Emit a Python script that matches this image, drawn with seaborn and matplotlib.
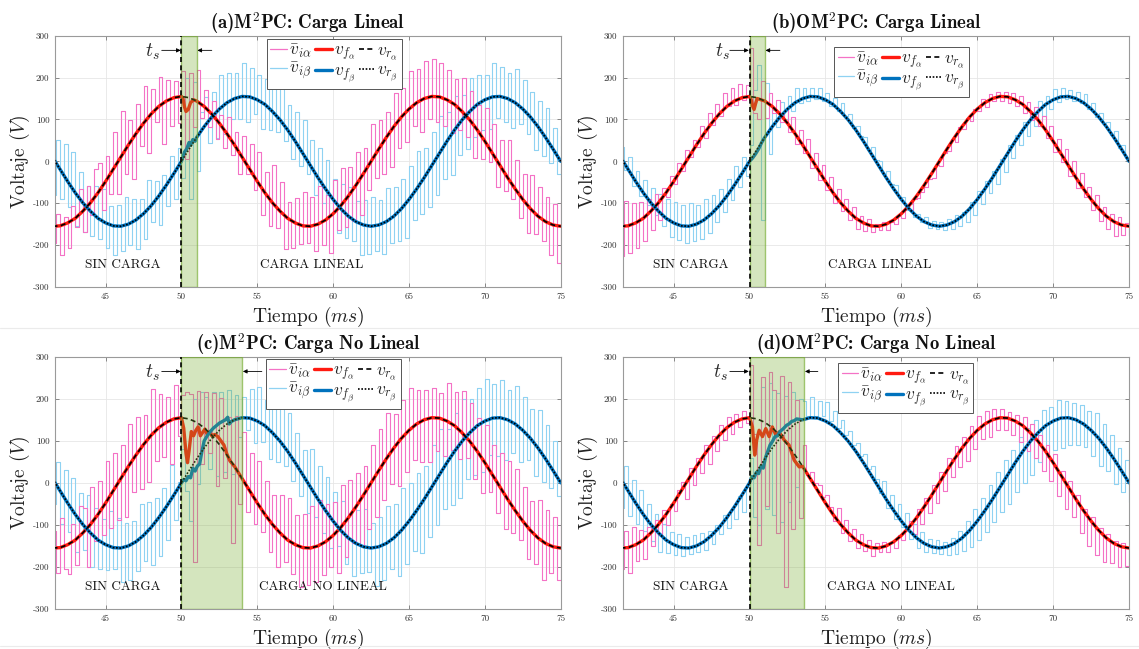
import numpy as np
import matplotlib
matplotlib.use("Agg")
import matplotlib.pyplot as plt
from matplotlib.lines import Line2D
import seaborn as sns

# ---------------- data ----------------
T = np.arange(41.5, 75.01, 0.5)  # time grid (ms)

VR_ALPHA = [-155, -154, -147, -136, -119, -99, -75, -48, -19, 10, 39, 66, 91, 113, 131, 144, 152,
            155, 152, 144, 131, 113, 91, 66, 39, 10, -19, -48, -75, -99, -119, -136, -147, -154,
            -155, -150, -140, -125, -106, -83, -57, -29, 0, 29, 57, 83, 106, 125, 140, 150, 155,
            154, 147, 136, 119, 99, 75, 48, 19, -10, -39, -66, -91, -113, -131, -144, -152, -155]
VR_BETA = [10, -19, -48, -75, -99, -119, -136, -147, -154, -155, -150, -140, -125, -106, -83, -57, -29,
           0, 29, 57, 83, 106, 125, 140, 150, 155, 154, 147, 136, 119, 99, 75, 48, 19,
           -10, -39, -66, -91, -113, -131, -144, -152, -155, -152, -144, -131, -113, -91, -66, -39, -10,
           19, 48, 75, 99, 119, 136, 147, 154, 155, 150, 140, 125, 106, 83, 57, 29, 0]

# inverter voltage deviations from the reference (4 samples per ms)
DEV_A_ALPHA = [-40, 30, -70, 20, -60, 40, -20, 70, -50, 60, -30, 80, 70, -40, 60, -30,
               90, -60, 110, -40, 60, -80, 70, -30, 90, -70, 60, -20, 70, -90, 50, -60,
               40, -60, 60, -150, 60, -70, 75, -40, 40, -50, 30, -60, 20, -60, 40, -50,
               30, -70, 50, -40, 60, -50, 70, -80, 50, -80, 90, -60, 70, -90, 40, -70,
               60, -50, 80, -40, 70, -60, 90, -50, 60, -80, 80, -40, 90, -50, 70, -60,
               80, -70, 60, -40, 90, -40, 70, -60, 60, -70, 80, -50, 70, -60, 90, -40,
               80, -70, 90, -50, 90, -60, 80, -70, 70, -80, 60, -60, 80, -60, 70, -90,
               60, -70, 80, -50, 70, -80, 60, -60, 90, -50, 70, -70, 60, -80, 80, -60,
               70, -60, 60, -80, 50, -90, 60, -50]
DEV_A_BETA = [-90, 40, -70, 60, -60, 70, -80, 50, -70, 40, -60, 60, -50, 70, -60, 40,
              -70, 50, -60, 70, -50, 60, -70, 50, -60, 80, -40, 60, -70, 50, -50, 70,
              -60, 60, -40, 200, -120, 160, -80, 60, 70, -40, 60, -50, 80, -60, 70, -40,
              60, -50, 80, -60, 70, -40, 60, -70, 60, -60, 70, -50, 80, -50, 60, -70,
              70, -60, 80, -50, 60, -70, 70, -60, 70, -60, 50, -80, 60, -70, 70, -60,
              50, -80, 60, -70, 70, -60, 60, -70, 80, -50, 70, -60, 70, -70, 80, -50,
              90, -60, 70, -70, 80, -70, 90, -60, 70, -80, 80, -60, 60, -70, 80, -60,
              70, -60, 60, -70, 80, -50, 70, -60, 60, -70, 80, -50, 70, -60, 60, -80,
              60, -70, 70, -60, 50, -60, 60, -50]
DEV_B_ALPHA = [-70, 60, -65, 55, -60, 50, -55, 45, -45, 40, -40, 35, -10, 40, -5, 45,
               -5, 45, 0, 40, -5, 45, -10, 50, -5, 45, -5, 50, 0, 45, -10, 40,
               -5, 30, 115, -40, -50, 40, -40, 20, -15, 15, -20, 10, -20, 15, -25, 10,
               -20, 15, -25, 10, -25, 10, -20, 10, -25, 10, -20, 10, -20, 10, -25, 5,
               -20, 10, -15, 5, -10, 10, -15, 5, -10, 10, -10, 15, -10, 15, -5, 10,
               -5, 15, -10, 20, -10, 20, -5, 25, -10, 25, -5, 20, -10, 20, -5, 25,
               -10, 20, -5, 15, -10, 10, -15, 10, -15, 10, -20, 5, -20, 10, -15, 10,
               -20, 10, -25, 5, -20, 10, -25, 10, -25, 10, -20, 5, -25, 10, -30, 5,
               -30, 5, -35, 10, -25, 5, -20, 10]
DEV_B_BETA = [25, -30, 30, -40, 25, -35, 30, -30, 35, -30, 40, -35, 45, -45, 50, -40,
              50, -40, 55, -35, 45, -35, 50, -30, 45, -20, 40, -15, 40, -10, 45, -5,
              40, -5, 40, 170, 200, -170, 130, -40, 40, 0, 35, -5, 30, -5, 35, 0,
              25, -5, 20, -5, 20, -10, 15, -15, 15, -15, 20, -10, 15, -20, 10, -15,
              10, -20, 15, -15, 10, -20, 15, -15, 10, -20, 5, -25, 10, -20, 5, -15,
              10, -15, 10, -10, 10, -10, 15, -10, 15, -10, 10, -15, 15, -15, 20, -10,
              20, -10, 15, -15, 15, -15, 20, -10, 15, -10, 20, -15, 20, -15, 25, -10,
              20, -10, 25, -5, 20, -5, 15, -10, 15, -10, 20, -15, 15, -20, 10, -15,
              10, -20, 15, -25, 10, -20, 5, -25]
DEV_C_ALPHA = [40, -60, 70, -50, -70, 50, -60, 80, 60, -80, 90, -40, 80, -50, 100, -60,
               90, -70, 80, -90, 100, -60, 90, -80, 70, -90, 110, -60, 80, -70, 60, -100,
               80, -40, 55, 60, 60, -340, 75, -100, 85, -60, 100, -120, 110, -80, 90, -210,
               120, -90, 110, -80, 90, -80, 100, -70, 80, -90, 70, -100, 90, -70, 100, -80,
               70, -100, 80, -90, 100, -80, 110, -70, 90, -60, 80, -90, 100, -70, 90, -60,
               80, -90, 70, -80, 90, -80, 100, -70, 110, -60, 80, -90, 90, -80, 100, -70,
               80, -90, 70, -100, 70, -80, 60, -90, 90, -70, 80, -80, 100, -60, 90, -90,
               80, -100, 90, -70, 70, -90, 80, -100, 90, -80, 100, -70, 80, -90, 70, -80,
               90, -100, 80, -70, 70, -80, 60, -90]
DEV_C_BETA = [-60, 40, -80, 50, -70, 60, -90, 50, -60, 70, -80, 60, -70, 50, -60, 80,
              -50, 70, -80, 60, -80, 60, -70, 90, -60, 80, -90, 70, -90, 70, -80, 100,
              -60, 30, 80, -20, -120, 170, -60, 160, 120, -50, 110, -90, 90, -100, 80, -120,
              60, -40, 50, -30, 70, -60, 80, -50, 60, -80, 70, -70, 80, -60, 90, -70,
              70, -80, 60, -90, 90, -70, 80, -80, 80, -90, 70, -60, 70, -80, 60, -90,
              80, -70, 90, -60, 60, -90, 70, -80, 90, -60, 80, -90, 100, -80, 90, -70,
              90, -100, 80, -90, 100, -90, 110, -80, 80, -100, 90, -110, 100, -90, 80, -100,
              90, -110, 100, -80, 80, -90, 90, -100, 70, -80, 90, -90, 80, -70, 70, -90,
              90, -80, 80, -70, 70, -60, 80, -70]
DEV_D_ALPHA = [-50, 40, -60, 50, -40, 35, -45, 30, -30, 30, -25, 35, -25, 25, -20, 30,
               20, -20, 25, -15, 20, -15, 25, -20, 20, -15, 25, -10, 25, -15, 20, -10,
               20, -10, 125, -40, -300, 100, -200, 120, 90, -250, 140, -360, 150, -200, 130, -150,
               50, -20, 15, -10, 15, -15, 20, -10, -15, 15, -20, 10, -20, 10, -20, 15,
               -15, 10, -20, 10, -10, 15, -15, 10, -15, 15, -10, 20, 15, -15, 20, -15,
               20, -15, 25, -20, 25, -20, 30, -15, 30, -20, 25, -30, 30, -25, 35, -20,
               30, -30, 25, -25, 20, -30, 15, -40, 15, -50, 20, -60, 20, -60, 15, -70,
               15, -70, 20, -80, 10, -80, 15, -70, 10, -80, 5, -85, 10, -80, 5, -75,
               10, -60, 5, -55, 10, -45, 5, -40]
DEV_D_BETA = [-70, 30, -60, 25, -50, 30, -40, 25, -40, 25, -45, 20, -30, 20, -25, 25,
              -20, 25, -15, 30, -15, 30, -20, 25, -20, 25, -15, 30, -25, 20, -30, 25,
              -40, 20, 60, -80, -130, 200, -120, 180, -160, 130, -200, 100, -170, 90, -150, 60,
              45, 10, 50, 5, 40, 5, 45, 0, 35, -5, 30, -5, 25, -10, 20, -10,
              20, -15, 20, -10, -15, 15, -20, 10, -20, 15, -15, 20, -20, 15, -25, 15,
              -20, 10, -15, 15, -15, 15, -20, 20, -25, 30, -30, 40, -40, 50, -45, 55,
              -50, 60, -55, 65, -60, 65, -70, 60, -70, 60, -75, 55, -80, 50, -70, 55,
              -75, 45, -70, 50, -70, 40, -65, 35, -60, 35, -55, 30, -60, 40, -65, 35,
              -55, 30, -60, 25, -50, 25, -45, 20]

# filtered voltage during the transient (time ms, value V)
TR_A_ALPHA_T = [50.0, 50.1, 50.2, 50.3, 50.45, 50.6, 50.8, 51.0]
TR_A_ALPHA_V = [155, 150, 130, 119, 124, 140, 147, 144]
TR_A_BETA_T = [50.0, 50.2, 50.35, 50.5, 50.6, 50.75, 50.9, 51.0]
TR_A_BETA_V = [0, 22, 30, 45, 38, 52, 48, 57]
TR_B_ALPHA_T = [50.0, 50.1, 50.2, 50.3, 50.4, 50.5, 51.0]
TR_B_ALPHA_V = [155, 148, 132, 124, 138, 150, 144]
TR_B_BETA_T = [50.0, 50.2, 50.4, 50.6, 50.8, 51.0]
TR_B_BETA_V = [0, 8, 18, 30, 45, 57]
TR_C_ALPHA_T = [50.0, 50.15, 50.3, 50.4, 50.5, 50.65, 50.8, 50.95, 51.1, 51.25, 51.4, 51.55,
                51.7, 51.85, 52.0, 52.2, 52.4, 52.6, 52.8, 53.0, 53.2, 53.5]
TR_C_ALPHA_V = [155, 130, 70, 48, 75, 122, 112, 125, 133, 112, 120, 128,
                115, 122, 112, 115, 110, 100, 90, 68, 52, 39]
TR_C_BETA_T = [50.0, 50.15, 50.3, 50.45, 50.6, 50.75, 50.9, 51.05, 51.2, 51.35, 51.5, 51.7,
               51.9, 52.1, 52.3, 52.5, 52.7, 52.9, 53.05, 53.15, 53.3, 53.5]
TR_C_BETA_V = [0, 8, 5, 15, 12, 35, 28, 40, 45, 75, 100, 112,
               122, 130, 136, 142, 146, 150, 156, 140, 146, 150]
TR_D_ALPHA_T = [50.0, 50.19, 50.34, 50.47, 50.63, 50.85, 51.07, 51.29, 51.5, 51.73, 51.95,
                52.28, 52.6, 52.94, 53.27, 53.5]
TR_D_ALPHA_V = [155, 133, 66, 102, 125, 110, 129, 110, 133, 114, 121, 102, 90, 54, 38, 39]
TR_D_BETA_T = [50.0, 50.15, 50.3, 50.45, 50.6, 50.75, 50.9, 51.05, 51.2, 51.35, 51.5, 51.68,
               51.85, 52.0, 52.2, 52.44, 52.6, 52.77, 52.95, 53.1, 53.5]
TR_D_BETA_V = [0, 15, 12, 25, 22, 40, 35, 60, 75, 90, 98, 110,
               112, 122, 128, 137, 140, 146, 148, 152, 150]

TITLES = ["(a)M$^{\\mathbf{2}}$PC: Carga Lineal", "(b)OM$^{\\mathbf{2}}$PC: Carga Lineal",
          "(c)M$^{\\mathbf{2}}$PC: Carga No Lineal", "(d)OM$^{\\mathbf{2}}$PC: Carga No Lineal"]
LOAD_LABELS = ["CARGA LINEAL", "CARGA LINEAL", "CARGA NO LINEAL", "CARGA NO LINEAL"]
TRANSIENT_END = [51.0, 51.0, 54.0, 53.6]
XTICKS = [45, 50, 55, 60, 65, 70, 75]
YTICKS = [-300, -200, -100, 0, 100, 200, 300]
LEGEND_LABELS = [r"$\bar{v}_{i\alpha}$", r"$\bar{v}_{i\beta}$", r"$v_{f_\alpha}$",
                 r"$v_{f_\beta}$", r"$v_{r_\alpha}$", r"$v_{r_\beta}$"]

# ---------------- style ----------------
sns.set_theme(style="white")
plt.rcParams["font.family"] = ["cmr10", "DejaVu Serif"]
plt.rcParams["mathtext.fontset"] = "cm"
plt.rcParams["axes.unicode_minus"] = False

PINK = "#f472c6"
LBLUE = "#8fd2f2"
RED = "#ff1a10"
BLUE = "#0072bd"
GREEN_FACE = (0.467, 0.675, 0.188, 0.31)
GREEN_EDGE = (0.467, 0.675, 0.188, 0.65)

vra = np.array(VR_ALPHA, float)
vrb = np.array(VR_BETA, float)
t_i = np.column_stack([T, T + 0.25]).ravel()


def splice(base, t0, t1, tt, vv):
    m0 = T < t0
    m1 = T > t1
    return (np.concatenate([T[m0], tt, T[m1]]),
            np.concatenate([base[m0], vv, base[m1]]))


panels = [
    dict(dev=(DEV_A_ALPHA, DEV_A_BETA), tra=(TR_A_ALPHA_T, TR_A_ALPHA_V), trb=(TR_A_BETA_T, TR_A_BETA_V),
         leg=(0.419, 0.987), ts=48.1, arrow_r=52.0),
    dict(dev=(DEV_B_ALPHA, DEV_B_BETA), tra=(TR_B_ALPHA_T, TR_B_ALPHA_V), trb=(TR_B_BETA_T, TR_B_BETA_V),
         leg=(0.417, 0.956), ts=48.2, arrow_r=52.0),
    dict(dev=(DEV_C_ALPHA, DEV_C_BETA), tra=(TR_C_ALPHA_T, TR_C_ALPHA_V), trb=(TR_C_BETA_T, TR_C_BETA_V),
         leg=(0.417, 0.992), ts=48.1, arrow_r=55.3),
    dict(dev=(DEV_D_ALPHA, DEV_D_BETA), tra=(TR_D_ALPHA_T, TR_D_ALPHA_V), trb=(TR_D_BETA_T, TR_D_BETA_V),
         leg=(0.425, 0.976), ts=48.1, arrow_r=54.5),
]

fig = plt.figure(figsize=(11.39, 6.49), dpi=100)
fig.patch.set_facecolor("white")
positions = [
    [0.0483, 0.5578, 0.4440, 0.3872],
    [0.5470, 0.5578, 0.4443, 0.3872],
    [0.0483, 0.0616, 0.4440, 0.3888],
    [0.5470, 0.0616, 0.4443, 0.3888],
]

for k, (p, pos) in enumerate(zip(panels, positions)):
    ax = fig.add_axes(pos)
    da, db = np.array(p["dev"][0], float), np.array(p["dev"][1], float)
    via = np.repeat(vra, 2) + da
    vib = np.repeat(vrb, 2) + db

    sns.lineplot(x=t_i, y=vib, ax=ax, color=LBLUE, linewidth=0.8, drawstyle="steps-post",
                 estimator=None, sort=False, errorbar=None, legend=False, zorder=1)
    sns.lineplot(x=t_i, y=via, ax=ax, color=PINK, linewidth=0.8, drawstyle="steps-post",
                 estimator=None, sort=False, errorbar=None, legend=False, zorder=1.1)

    fa_t, fa_v = splice(vra, 50.0, p["tra"][0][-1], p["tra"][0], p["tra"][1])
    fb_t, fb_v = splice(vrb, 50.0, p["trb"][0][-1], p["trb"][0], p["trb"][1])
    sns.lineplot(x=fa_t, y=fa_v, ax=ax, color=RED, linewidth=2.4, estimator=None, sort=False,
                 errorbar=None, legend=False, zorder=2)
    sns.lineplot(x=fb_t, y=fb_v, ax=ax, color=BLUE, linewidth=2.4, estimator=None, sort=False,
                 errorbar=None, legend=False, zorder=2)
    sns.lineplot(x=T, y=vra, ax=ax, color="black", linewidth=1.2, linestyle=(0, (3, 2)),
                 estimator=None, sort=False, errorbar=None, legend=False, zorder=3)
    sns.lineplot(x=T, y=vrb, ax=ax, color="black", linewidth=1.2, linestyle=(0, (1, 1)),
                 estimator=None, sort=False, errorbar=None, legend=False, zorder=3)

    ax.axvspan(50, TRANSIENT_END[k], facecolor=GREEN_FACE, edgecolor=GREEN_EDGE, lw=1.0, zorder=5)
    ax.axvline(50, color="black", linestyle=(0, (3, 2)), lw=1.2, zorder=6)

    ax.set_xlim(50 - 25 / 3, 75)
    ax.set_ylim(-300, 300)
    ax.set_xticks(XTICKS)
    ax.set_xticklabels([str(v) for v in XTICKS])
    ax.set_yticks(YTICKS)
    ax.set_yticklabels([str(v) for v in YTICKS])
    ax.tick_params(direction="in", length=3, width=0.6, color="#777777", labelsize=6.5,
                   labelcolor="#333333", pad=4, top=True, right=True, bottom=True, left=True)
    ax.grid(True, color="#e6e6e6", lw=0.6)
    ax.set_axisbelow(True)
    for s in ax.spines.values():
        s.set_visible(True)
        s.set_color("#9a9a9a")
        s.set_linewidth(0.8)

    ax.set_title(TITLES[k], fontsize=13.5, fontfamily="cmb10", pad=5, color="#111111")
    ax.set_xlabel("Tiempo ($ms$)", fontsize=14, color="#222222")
    ax.set_ylabel("Voltaje ($V$)", fontsize=14, color="#222222")
    ax.xaxis.set_label_coords(0.5, -0.07)
    ax.yaxis.set_label_coords(-0.045, 0.5)

    ax.text(46.1, -248, "SIN CARGA", fontsize=9.5, ha="center", va="center", color="#111111", zorder=7)
    ax.text(58.6 if k < 2 else 59.3, -248, LOAD_LABELS[k], fontsize=9.5, ha="center", va="center",
            color="#111111", zorder=7)
    ax.text(p["ts"], 262, "$t_s$", fontsize=14, ha="center", va="center", zorder=7)
    arrow = dict(arrowstyle="-|>", color="black", lw=0.6, mutation_scale=6, shrinkA=0, shrinkB=0)
    ax.annotate("", xy=(49.95, 265), xytext=(48.7, 265), arrowprops=arrow, zorder=7)
    ax.annotate("", xy=(TRANSIENT_END[k] + 0.05, 265), xytext=(p["arrow_r"], 265), arrowprops=arrow, zorder=7)

    handles = [Line2D([], [], color=PINK, lw=0.9), Line2D([], [], color=LBLUE, lw=0.9),
               Line2D([], [], color=RED, lw=2.4), Line2D([], [], color=BLUE, lw=2.4),
               Line2D([], [], color="black", lw=1.2, ls=(0, (3, 2))),
               Line2D([], [], color="black", lw=1.2, ls=(0, (1, 1)))]
    leg = ax.legend(handles, LEGEND_LABELS, ncol=3, loc="upper left", bbox_to_anchor=p["leg"],
                    fontsize=12.5, frameon=True, fancybox=False, edgecolor="#555555", framealpha=1,
                    handlelength=0.95, handletextpad=0.12, columnspacing=0.2, borderpad=0.2,
                    labelspacing=0.05, borderaxespad=0)
    leg.get_frame().set_linewidth(0.7)
    leg.set_zorder(10)

for yy in [1 - 327.5 / 649, 1 - 646 / 649]:
    fig.add_artist(Line2D([0.0, 1.0], [yy, yy], color="#ebebeb", lw=0.8, transform=fig.transFigure))

fig.savefig("out.png", dpi=100, facecolor="white")
